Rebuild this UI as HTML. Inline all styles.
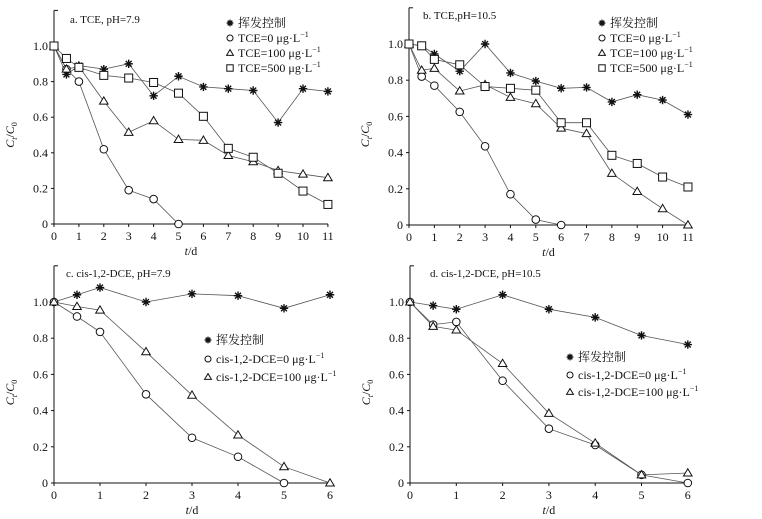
<!DOCTYPE html>
<html><head><meta charset="utf-8"><style>
html,body{margin:0;padding:0;background:#fff;}
svg{display:block;}
text{font-family:"Liberation Serif","Noto Serif CJK SC",serif;fill:#111;}
</style></head><body>
<svg id="s" width="762" height="519" viewBox="0 0 762 519" xmlns="http://www.w3.org/2000/svg"></svg>
<script>
var S=document.getElementById('s'),h='';
function star(x,y,r){r=r||4.2;return '<path d="M'+(x-r)+' '+y+'H'+(x+r)+'M'+(x-r*.7)+' '+(y-r*.7)+'L'+(x+r*.7)+' '+(y+r*.7)+'M'+(x-r*.7)+' '+(y+r*.7)+'L'+(x+r*.7)+' '+(y-r*.7)+'M'+x+' '+(y-r)+'V'+(y+r)+'" stroke="#111" stroke-width="1.4"/>';}
function tri(x,y,k){k=k||1;return '<path d="M'+x+' '+(y-4.3*k)+'L'+(x+4.3*k)+' '+(y+3*k)+'L'+(x-4.3*k)+' '+(y+3*k)+'Z" fill="#fff" stroke="#111" stroke-width="1"/>';}
function M(t,x,y,k){k=k||1;
 if(t=='s')return star(x,y,4.2*k);
 if(t=='o')return '<circle cx="'+x+'" cy="'+y+'" r="'+(3.8*k)+'" fill="#fff" stroke="#111" stroke-width="1"/>';
 if(t=='t')return tri(x,y,k);
 return '<rect x="'+(x-4*k)+'" y="'+(y-4*k)+'" width="'+(8*k)+'" height="'+(8*k)+'" fill="#fff" stroke="#111" stroke-width="1"/>';
}
function panel(p){
 var X=function(v){return p.x0+v*p.xs},Y=function(v){return p.y0-v*p.ys};
 var xe=X(p.xmax);
 h+='<path d="M'+p.x0+' '+Y(1.2)+'V'+p.y0+'H'+xe+'" fill="none" stroke="#111" stroke-width="1"/>';
 h+='<path d="M'+p.x0+' '+Y(1.2)+'h4" stroke="#111"/>';
 for(var i=0;i<=5;i++){var v=i*0.2,yy=Y(v);h+='<path d="M'+p.x0+' '+yy+'h-3" stroke="#111"/>';
  h+='<text x="'+(p.x0-6)+'" y="'+(yy+4)+'" font-size="12" text-anchor="end">'+(i==0?'0':v.toFixed(1))+'</text>';}
 for(var j=0;j<=p.xmax;j++){var xx=X(j);h+='<path d="M'+xx+' '+p.y0+'v3" stroke="#111"/>';
  h+='<text x="'+xx+'" y="'+(p.y0+16)+'" font-size="12" text-anchor="middle">'+j+'</text>';}
 h+='<text x="'+((p.x0+xe)/2)+'" y="'+(p.y0+31)+'" font-size="12" text-anchor="middle"><tspan font-style="italic">t</tspan>/d</text>';
 var cy=Y(0.5);
 h+='<text transform="translate('+(p.x0-40)+','+cy+') rotate(-90)" font-size="12" text-anchor="middle"><tspan font-style="italic">C</tspan><tspan font-style="italic" font-size="8" dy="3">t</tspan><tspan dy="-3">/</tspan><tspan font-style="italic">C</tspan><tspan font-size="8" dy="3">0</tspan></text>';
 h+='<text x="'+p.tx+'" y="'+p.ty+'" font-size="11">'+p.title+'</text>';
 p.series.forEach(function(s){
  var d='';s.d.forEach(function(q,k){d+=(k?'L':'M')+X(q[0]).toFixed(1)+' '+Y(q[1]).toFixed(1);});
  h+='<path d="'+d+'" fill="none" stroke="#555" stroke-width="0.8"/>';
 });
 p.series.forEach(function(s){s.d.forEach(function(q){h+=M(s.m,X(q[0]),Y(q[1]));});});
 p.leg.forEach(function(l,k){var ly=p.ly[k];h+=M(l[0],p.lx,ly,0.8);
  h+='<text x="'+(p.lx+8)+'" y="'+(ly+4)+'" font-size="12">'+l[1]+'</text>';});
}
function pts(a){var r=[];for(var i=0;i<a.length;i+=2)r.push([a[i],a[i+1]]);return r;}
var ug=' μg·L<tspan font-size="8" dy="-5">−1</tspan>';
panel({x0:54,xs:24.9,y0:224,ys:178,xmax:11,title:'a. TCE, pH=7.9',tx:70,ty:23,lx:230,ly:[23,38,53,68],
 leg:[['s','挥发控制'],['o','TCE=0'+ug],['t','TCE=100'+ug],['q','TCE=500'+ug]],
 series:[{m:'s',d:pts([0,1,.5,.84,1,.89,2,.87,3,.9,4,.72,5,.83,6,.77,7,.76,8,.75,9,.57,10,.76,11,.745])},
 {m:'o',d:pts([0,1,.5,.87,1,.8,2,.42,3,.19,4,.14,5,0])},
 {m:'t',d:pts([0,1,.5,.87,1,.885,2,.69,3,.515,4,.58,5,.475,6,.47,7,.385,8,.35,9,.3,10,.28,11,.26])},
 {m:'q',d:pts([0,1,.5,.93,1,.88,2,.835,3,.82,4,.795,5,.735,6,.605,7,.425,8,.375,9,.285,10,.185,11,.11])}]});
panel({x0:409,xs:25.36,y0:225,ys:181,xmax:11,title:'b. TCE,pH=10.5',tx:423,ty:19,lx:602,ly:[23,38,53,68],
 leg:[['s','挥发控制'],['o','TCE=0'+ug],['t','TCE=100'+ug],['q','TCE=500'+ug]],
 series:[{m:'s',d:pts([0,1,.5,.99,1,.945,2,.85,3,1,4,.84,5,.795,6,.755,7,.76,8,.68,9,.72,10,.69,11,.61])},
 {m:'o',d:pts([0,1,.5,.82,1,.77,2,.625,3,.435,4,.17,5,.03,6,0])},
 {m:'t',d:pts([0,1,.5,.855,1,.865,2,.74,3,.775,4,.705,5,.67,6,.535,7,.505,8,.285,9,.185,10,.09,11,0])},
 {m:'q',d:pts([0,1,.5,.99,1,.915,2,.885,3,.765,4,.755,5,.745,6,.565,7,.565,8,.385,9,.34,10,.265,11,.21])}]});
panel({x0:54,xs:46,y0:483,ys:181,xmax:6,title:'c. cis-1,2-DCE, pH=7.9',tx:66,ty:277,lx:208,ly:[340,359,377],
 leg:[['s','挥发控制'],['o','cis-1,2-DCE=0'+ug],['t','cis-1,2-DCE=100'+ug]],
 series:[{m:'s',d:pts([0,1,.5,1.04,1,1.08,2,1,3,1.045,4,1.035,5,.965,6,1.04])},
 {m:'o',d:pts([0,1,.5,.92,1,.835,2,.49,3,.25,4,.145,5,0])},
 {m:'t',d:pts([0,1,.5,.975,1,.955,2,.725,3,.485,4,.265,5,.09,6,0])}]});
panel({x0:410,xs:46.3,y0:483,ys:181,xmax:6,title:'d. cis-1,2-DCE, pH=10.5',tx:430,ty:277,lx:570,ly:[357,375,392],
 leg:[['s','挥发控制'],['o','cis-1,2-DCE=0'+ug],['t','cis-1,2-DCE=100'+ug]],
 series:[{m:'s',d:pts([0,1,.5,.98,1,.96,2,1.04,3,.96,4,.915,5,.815,6,.765])},
 {m:'o',d:pts([0,1,.5,.875,1,.89,2,.565,3,.3,4,.21,5,.045,6,0])},
 {m:'t',d:pts([0,1,.5,.865,1,.845,2,.66,3,.385,4,.22,5,.045,6,.055])}]});
S.innerHTML=h;
</script>
</body></html>
